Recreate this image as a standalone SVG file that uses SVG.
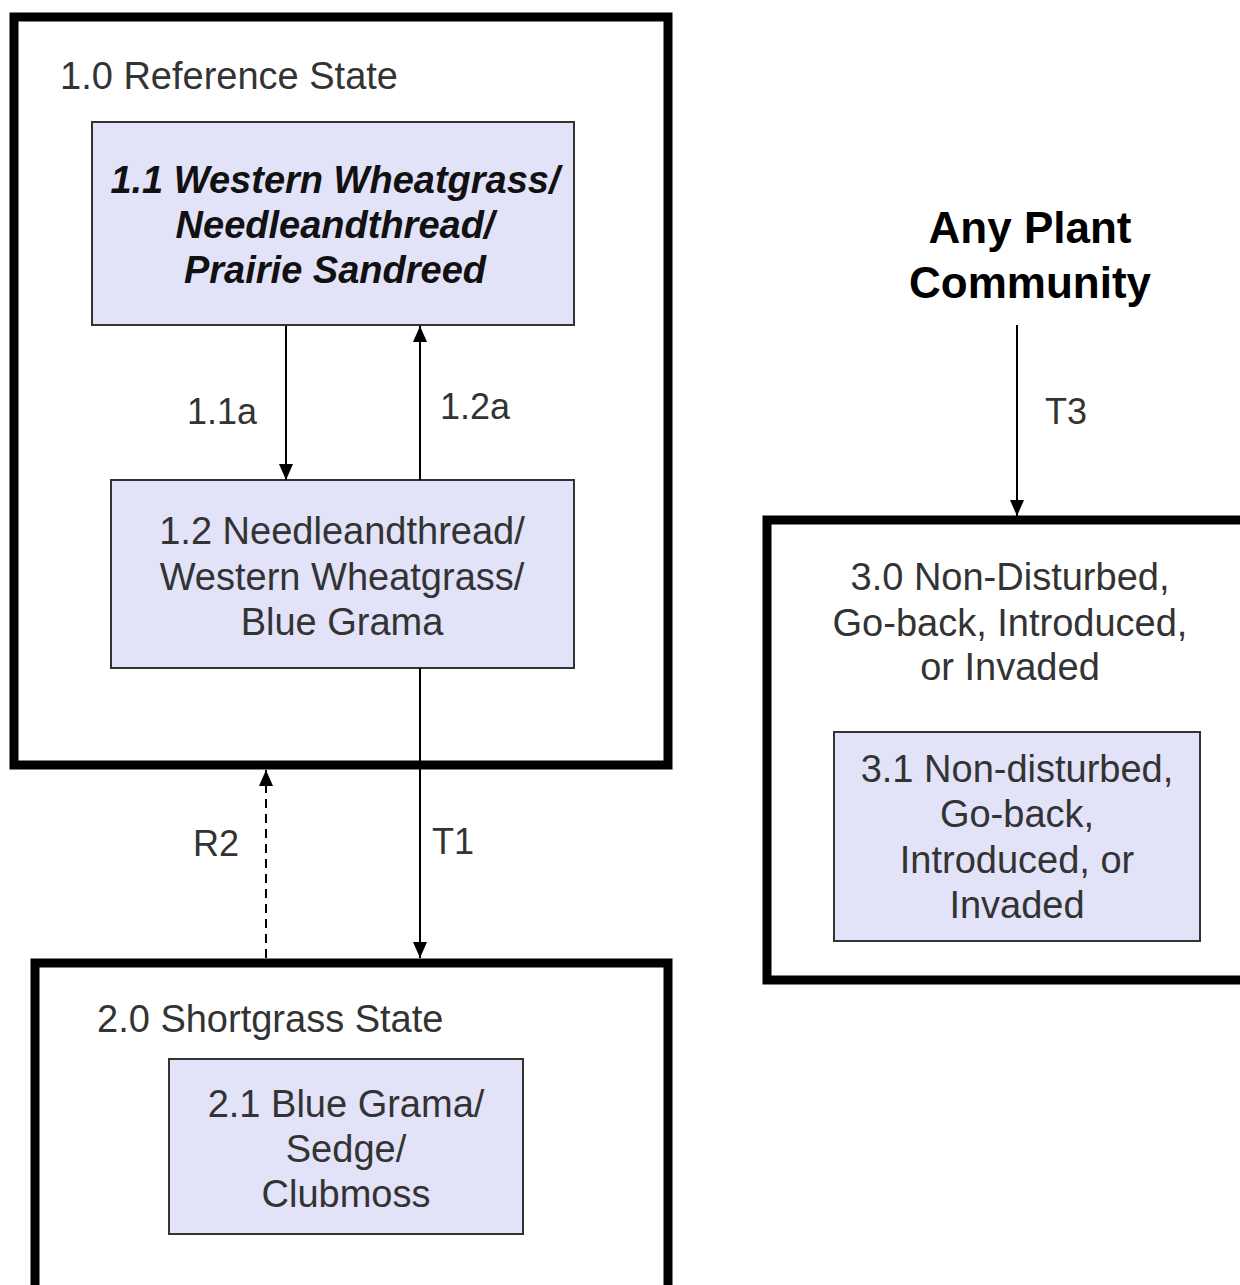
<svg xmlns="http://www.w3.org/2000/svg" width="1240" height="1285" viewBox="0 0 1240 1285">
<style>
.state{fill:#ffffff;stroke:#000000;stroke-width:9}
.comm{fill:#e2e2f8;stroke:#333333;stroke-width:2}
.t{font-family:"Liberation Sans",Arial,sans-serif;font-size:38px;fill:#333333}
.c{text-anchor:middle}
.bi{font-weight:bold;font-style:italic;fill:#111111}
.b{font-family:"Liberation Sans",Arial,sans-serif;font-size:44px;font-weight:bold;fill:#000000;text-anchor:middle}
.lbl{font-family:"Liberation Sans",Arial,sans-serif;font-size:36px;fill:#333333}
.con{stroke:#000000;stroke-width:2;fill:none}
.dash{stroke-dasharray:9,6}
</style>
<defs>
<marker id="ah" markerUnits="userSpaceOnUse" markerWidth="16" markerHeight="14" refX="16" refY="7" orient="auto">
<path d="M0,0 L16,7 L0,14 z" fill="#000000"/>
</marker>
</defs>
<rect width="1240" height="1285" fill="#ffffff"/>
<g id="state1">
<rect class="state" x="14" y="17" width="654" height="748"/>
<text class="t" x="60" y="89">1.0 Reference State</text>
</g>
<g id="state2">
<rect class="state" x="35" y="963" width="633" height="340"/>
<text class="t" x="97" y="1032">2.0 Shortgrass State</text>
</g>
<g id="state3">
<rect class="state" x="767" y="520" width="490" height="460"/>
<text class="t c" x="1010" y="590">3.0 Non-Disturbed,</text>
<text class="t c" x="1010" y="636">Go-back, Introduced,</text>
<text class="t c" x="1010" y="680">or Invaded</text>
</g>
<g id="comm11">
<rect class="comm" x="92" y="122" width="482" height="203"/>
<text class="t c bi" x="335" y="193">1.1 Western Wheatgrass/</text>
<text class="t c bi" x="335" y="238">Needleandthread/</text>
<text class="t c bi" x="335" y="283">Prairie Sandreed</text>
</g>
<g id="comm12">
<rect class="comm" x="111" y="480" width="463" height="188"/>
<text class="t c" x="342" y="544">1.2 Needleandthread/</text>
<text class="t c" x="342" y="590">Western Wheatgrass/</text>
<text class="t c" x="342" y="635">Blue Grama</text>
</g>
<g id="comm21">
<rect class="comm" x="169" y="1059" width="354" height="175"/>
<text class="t c" x="346" y="1117">2.1 Blue Grama/</text>
<text class="t c" x="346" y="1162">Sedge/</text>
<text class="t c" x="346" y="1207">Clubmoss</text>
</g>
<g id="comm31">
<rect class="comm" x="834" y="732" width="366" height="209"/>
<text class="t c" x="1017" y="782">3.1 Non-disturbed,</text>
<text class="t c" x="1017" y="827">Go-back,</text>
<text class="t c" x="1017" y="873">Introduced, or</text>
<text class="t c" x="1017" y="918">Invaded</text>
</g>
<g id="any">
<text class="b" x="1030" y="243">Any Plant</text>
<text class="b" x="1030" y="298">Community</text>
</g>
<g id="connectors">
<line class="con" x1="286" y1="326" x2="286" y2="480" marker-end="url(#ah)"/>
<line class="con" x1="420" y1="480" x2="420" y2="326" marker-end="url(#ah)"/>
<line class="con" x1="420" y1="668" x2="420" y2="958" marker-end="url(#ah)"/>
<line class="con dash" x1="266" y1="958" x2="266" y2="770" marker-end="url(#ah)"/>
<line class="con" x1="1017" y1="325" x2="1017" y2="516" marker-end="url(#ah)"/>
<text class="lbl" x="187" y="424">1.1a</text>
<text class="lbl" x="440" y="419">1.2a</text>
<text class="lbl" x="193" y="856">R2</text>
<text class="lbl" x="432" y="854">T1</text>
<text class="lbl" x="1045" y="424">T3</text>
</g>
</svg>
